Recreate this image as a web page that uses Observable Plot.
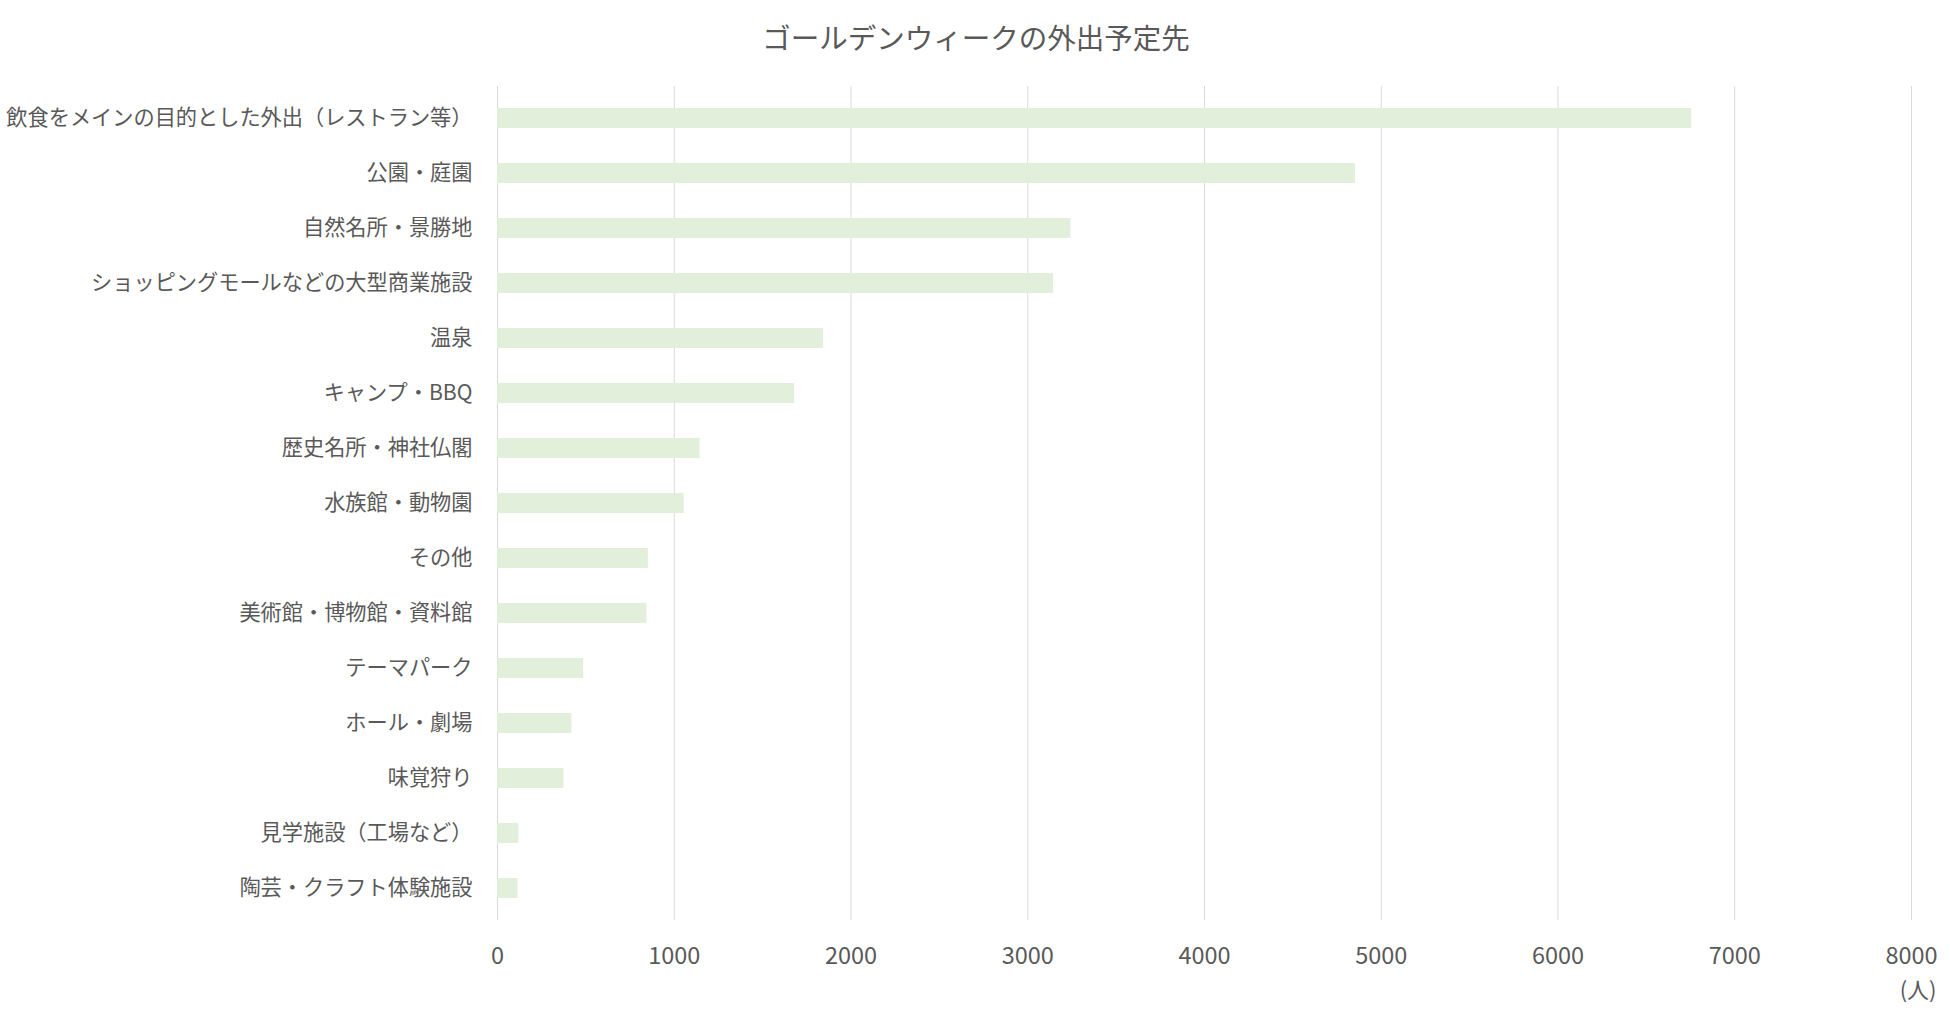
<!DOCTYPE html>
<html>
<head>
<meta charset="utf-8">
<script src="https://cdn.jsdelivr.net/npm/d3@7"></script>
<script src="https://cdn.jsdelivr.net/npm/@observablehq/plot@0.6"></script>
<style>
  body { margin: 0; background: #ffffff; font-family: "Noto Sans CJK JP", "Noto Sans", sans-serif; }
  #title {
    width: 1950px; height: 70px; box-sizing: border-box;
    padding-top: 23px; padding-left: 2px;
    text-align: center; font-size: 28.5px; line-height: 28px; color: #595959;
  }
</style>
</head>
<body>
<div id="title">ゴールデンウィークの外出予定先</div>
<div id="chart"></div>
<script>
const categories = [
  "飲食をメインの目的とした外出（レストラン等）",
  "公園・庭園",
  "自然名所・景勝地",
  "ショッピングモールなどの大型商業施設",
  "温泉",
  "キャンプ・BBQ",
  "歴史名所・神社仏閣",
  "水族館・動物園",
  "その他",
  "美術館・博物館・資料館",
  "テーマパーク",
  "ホール・劇場",
  "味覚狩り",
  "見学施設（工場など）",
  "陶芸・クラフト体験施設"
];
const values = [6756, 4854, 3244, 3146, 1845, 1681, 1146, 1056, 853, 845, 487, 421, 376, 121, 116];
const xTicks = [0, 1000, 2000, 3000, 4000, 5000, 6000, 7000, 8000];
const unitLabel = ["(人)"];

const data = categories.map((c, i) => ({category: c, value: values[i]}));

const chart = Plot.plot({
  width: 1950,
  height: 962,
  marginTop: 16,
  marginBottom: 112,
  marginLeft: 497,
  marginRight: 39,
  style: {fontFamily: '"Noto Sans CJK JP", "Noto Sans", sans-serif', color: "#595959", background: "#ffffff"},
  x: {domain: [0, 8000]},
  y: {domain: categories, paddingInner: 0.64, paddingOuter: 0.32},
  marks: [
    Plot.gridX(xTicks, {stroke: "#d9d9d9", strokeOpacity: 1}),
    Plot.barX(data, {x: "value", y: "category", fill: "#e2efda"}),
    Plot.axisX(xTicks, {tickSize: 0, tickPadding: 27, fontSize: 23.5, tickFormat: d => String(d), label: null}),
    Plot.axisY({tickSize: 0, tickPadding: 25, fontSize: 21.2, label: null}),
    Plot.text(unitLabel, {frameAnchor: "bottom-right", dx: 25, dy: 77, fontSize: 22, textAnchor: "end", fill: "#595959"})
  ]
});
document.getElementById("chart").appendChild(chart);
</script>
</body>
</html>
